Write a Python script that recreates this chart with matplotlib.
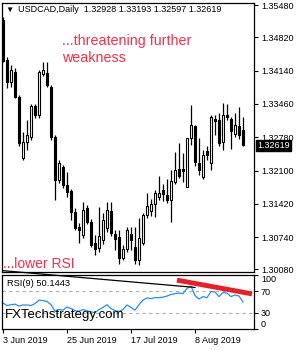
# USDCAD daily candles with RSI(9) panel
import matplotlib
matplotlib.use('Agg')
from matplotlib import pyplot as plt
import matplotlib.transforms as mtransforms
import numpy as np
import pandas as pd

plt.rcParams['font.family'] = ['Liberation Sans', 'DejaVu Sans']

# OHLC, one bar per trading day from 3 Jun 2019
opens = [1.35174, 1.34357, 1.33908, 1.34112, 1.33601, 1.32356, 1.32682, 1.32785, 1.33418, 1.33234,
         1.34071, 1.34091, 1.33806, 1.32785, 1.31906, 1.32172, 1.31804, 1.31682, 1.31253, 1.30947,
         1.30783, 1.31335, 1.31049, 1.30620, 1.30518, 1.30681, 1.30926, 1.31274, 1.30804, 1.30743,
         1.30314, 1.30497, 1.30804, 1.30538, 1.30273, 1.30620, 1.31192, 1.31274, 1.31416, 1.31559,
         1.31702, 1.31600, 1.31498, 1.31866, 1.32131, 1.32131, 1.31764, 1.32764, 1.33009, 1.32254,
         1.31968, 1.32499, 1.32254, 1.33152, 1.33132, 1.32682, 1.33234, 1.33152, 1.32846, 1.33009,
         1.32928]
highs = [1.35235, 1.34418, 1.34255, 1.34194, 1.33642, 1.32887, 1.33132, 1.33458, 1.33458, 1.34153,
         1.34316, 1.34316, 1.33846, 1.32825, 1.32315, 1.32213, 1.32070, 1.31723, 1.31335, 1.31028,
         1.31457, 1.31396, 1.31110, 1.30783, 1.31355, 1.31233, 1.31457, 1.31457, 1.30885, 1.30885,
         1.30579, 1.30947, 1.30947, 1.30947, 1.31131, 1.31233, 1.31641, 1.31518, 1.31702, 1.31988,
         1.31825, 1.31927, 1.32111, 1.32478, 1.32662, 1.32458, 1.32764, 1.33438, 1.33030, 1.32764,
         1.32519, 1.32601, 1.33234, 1.33234, 1.33275, 1.33479, 1.33458, 1.33193, 1.33275, 1.33397,
         1.33193]
lows = [1.34316, 1.33785, 1.33806, 1.33581, 1.32601, 1.32315, 1.32519, 1.32723, 1.33172, 1.33172,
        1.34030, 1.33806, 1.32723, 1.31498, 1.31845, 1.31743, 1.31559, 1.31090, 1.30885, 1.30620,
        1.30722, 1.31008, 1.30538, 1.30375, 1.30436, 1.30600, 1.30845, 1.30763, 1.30477, 1.30191,
        1.30273, 1.30436, 1.30477, 1.30191, 1.30171, 1.30579, 1.31131, 1.31171, 1.31151, 1.31498,
        1.31478, 1.31437, 1.31049, 1.31825, 1.31947, 1.31866, 1.31764, 1.32621, 1.32192, 1.32009,
        1.31927, 1.32315, 1.32111, 1.32825, 1.32601, 1.32519, 1.33132, 1.32539, 1.32785, 1.32744,
        1.32597]
closes = [1.34337, 1.33908, 1.34153, 1.33601, 1.32662, 1.32682, 1.32825, 1.33418, 1.33234, 1.34112,
          1.34153, 1.33846, 1.32785, 1.31906, 1.32254, 1.31804, 1.31661, 1.31253, 1.30926, 1.30885,
          1.31294, 1.31049, 1.30579, 1.30497, 1.30763, 1.31090, 1.31294, 1.30824, 1.30702, 1.30314,
          1.30497, 1.30885, 1.30681, 1.30273, 1.30722, 1.31192, 1.31376, 1.31416, 1.31641, 1.31641,
          1.31621, 1.31498, 1.31886, 1.32111, 1.31988, 1.32090, 1.32764, 1.33030, 1.32274, 1.32111,
          1.32417, 1.32417, 1.33193, 1.33111, 1.32662, 1.33234, 1.33193, 1.32907, 1.33030, 1.32825,
          1.32619]

# RSI(9) as drawn in the lower window
rsi = [48, 43.5, 45, 46, 42.5, 44.5, 44.5, 43.5, 47, 53.5,
       52.5, 51, 45, 33, 36, 35, 40.5, 38, 34, 33,
       36, 34, 31.5, 30.5, 36, 40, 45, 38, 34, 32.5,
       36, 44.5, 40, 35, 45, 53.5, 57.5, 56.5, 58, 58,
       59, 61, 64, 65.5, 66.5, 65.5, 75, 79.5, 62, 55.5,
       60, 58, 69.5, 68.5, 60, 67.5, 66.5, 60, 63, 61,
       50.1443]

price_ticks = [1.35480, 1.34820, 1.34140, 1.33460, 1.32780, 1.32100, 1.31420, 1.30740, 1.30080]
date_ticks = [0, 16, 32, 48]
rsi_ticks = [100, 70, 30, 0]

# trend lines drawn by the author (bar index, value)
rsi_line_black = ([0, 48], [108, 77])
rsi_line_red = ([43.5, 62.25], [90.5, 65])

dates = pd.bdate_range('2019-06-03', periods=len(closes))
idx = np.arange(len(closes))
red = '#ff2d45'

fig = plt.figure(figsize=(3, 3.5), dpi=100)
ax = fig.add_axes([2 / 300, 1 - 272 / 350, 252 / 300, 269 / 350])
ax2 = fig.add_axes([2 / 300, 1 - 329 / 350, 252 / 300, 54 / 350])

# candles
o = np.array(opens)
c = np.array(closes)
up = c >= o
body_lo = np.minimum(o, c)
body_h = np.maximum(np.abs(c - o), 0.00004)
ax.vlines(idx, lows, highs, color='black', linewidth=0.9, zorder=1)
ax.bar(idx[up], body_h[up], bottom=body_lo[up], width=0.6, color='white',
       edgecolor='black', linewidth=0.8, zorder=2)
ax.bar(idx[~up], body_h[~up], bottom=body_lo[~up], width=0.6, color='black',
       edgecolor='black', linewidth=0.8, zorder=2)

ax.set_xlim(-0.25, 62.75)
ax.set_ylim(1.30028, 1.35521)
ax.yaxis.tick_right()
ax.set_yticks(price_ticks)
ax.set_yticklabels([f'{v:.5f}' for v in price_ticks], fontsize=6.5)
ax.tick_params(axis='y', length=3, width=0.8, pad=2)
ax.set_xticks([])
for s in ax.spines.values():
    s.set_linewidth(0.9)

# current price marker
trans = mtransforms.blended_transform_factory(ax.transAxes, ax.transData)
ax.text(1.012, closes[-1] - 0.00008, f'{closes[-1]:.5f}', transform=trans, fontsize=6.5,
        color='white', va='center', ha='left', zorder=5,
        bbox=dict(boxstyle='square,pad=0.12', facecolor='black', edgecolor='black'))

# header and notes
fig.text(18 / 300, 1 - 10 / 350,
         f'USDCAD,Daily  {opens[-1]:.5f} {highs[-1]:.5f} {lows[-1]:.5f} {closes[-1]:.5f}',
         fontsize=6.5, va='center', ha='left')
fig.text(9 / 300, 1 - 10 / 350, '\u25bc', fontsize=6, va='center', ha='center')
ax.text(62 / 300, 1 - 41 / 350, '...threatening further', transform=fig.transFigure,
        fontsize=10.3, color=red, va='center', ha='left')
ax.text(62 / 300, 1 - 58 / 350, 'weakness', transform=fig.transFigure,
        fontsize=10.3, color=red, va='center', ha='left')
ax.text(3 / 300, 1 - 264 / 350, '...lower RSI', transform=fig.transFigure,
        fontsize=10, color=red, va='center', ha='left')

# RSI panel
ax2.axhline(70, color='#b0b0b0', linestyle=(0, (3, 3)), linewidth=0.8)
ax2.axhline(30, color='#b0b0b0', linestyle=(0, (3, 3)), linewidth=0.8)
ax2.plot(idx, rsi, color='#1e90ff', linewidth=0.9)
ax2.plot(rsi_line_black[0], rsi_line_black[1], color='black', linewidth=0.9, clip_on=False)
ax2.plot(rsi_line_red[0], rsi_line_red[1], color='#ee1c25', linewidth=3.5,
         solid_capstyle='butt')
ax2.set_xlim(-0.25, 62.75)
ax2.set_ylim(0, 100)
ax2.yaxis.tick_right()
ax2.set_yticks(rsi_ticks)
ax2.set_yticklabels([str(v) for v in rsi_ticks], fontsize=6.5)
lbls = ax2.get_yticklabels()
lbls[0].set_va('top')
lbls[-1].set_va('bottom')
ax2.tick_params(axis='y', length=3, width=0.8, pad=2)
ax2.set_xticks(date_ticks)
ax2.set_xticklabels([f'{dates[i].day} {dates[i].strftime("%b %Y")}' for i in date_ticks],
                    fontsize=6.5, ha='left')
ax2.tick_params(axis='x', length=3, width=0.8, pad=2)
for s in ax2.spines.values():
    s.set_linewidth(0.9)
ax2.text(7 / 300, 1 - 283 / 350, 'RSI(9) 50.1443', transform=fig.transFigure,
         fontsize=6.7, va='center', ha='left')
ax2.text(5 / 300, 1 - 315 / 350, 'FXTechstrategy.com', transform=fig.transFigure,
         fontsize=9.5, va='center', ha='left', zorder=5)

fig.savefig('out.png', dpi=100)
